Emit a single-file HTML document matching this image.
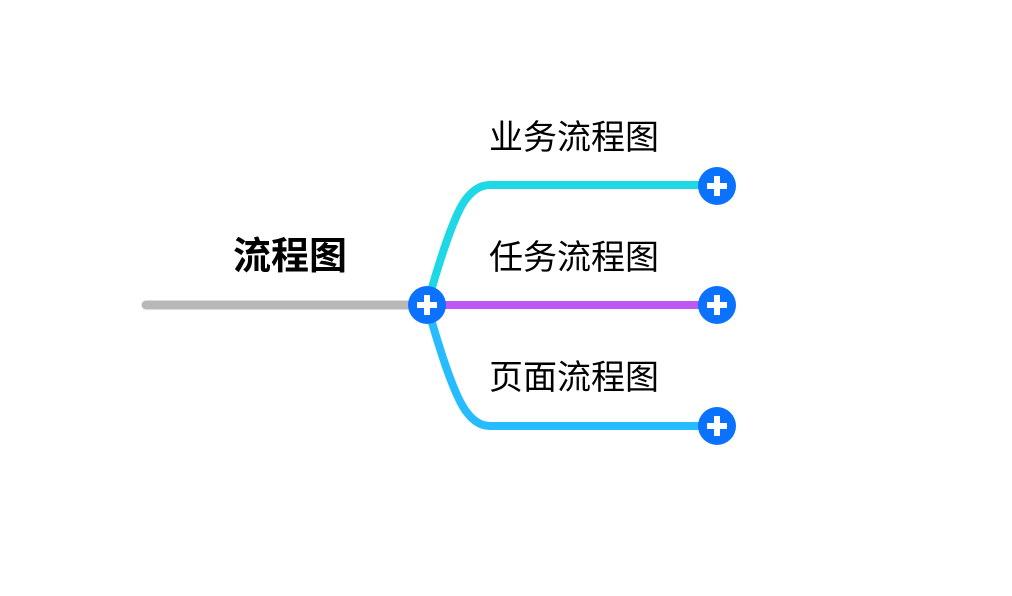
<!DOCTYPE html>
<html><head><meta charset="utf-8"><style>
html,body{margin:0;padding:0;background:#fff;width:1012px;height:596px;overflow:hidden}
</style></head><body>
<svg width="1012" height="596" viewBox="0 0 1012 596" xmlns="http://www.w3.org/2000/svg">
<line x1="146" y1="305" x2="427" y2="305" stroke="#b8b8b8" stroke-width="9" stroke-linecap="round"/>
<path d="M427 305 Q448 230 462 205 Q474 185 490 185 L716 185" fill="none" stroke="#1fd8e6" stroke-width="8"/>
<path d="M427 305 Q448 380 462 405 Q474 426 490 426 L716 426" fill="none" stroke="#26bcff" stroke-width="8"/>
<line x1="427" y1="305" x2="716" y2="305" stroke="#bd59f2" stroke-width="8"/>
<g fill="#0a72ff">
<circle cx="427" cy="305" r="19"/><circle cx="717" cy="186" r="19"/><circle cx="717" cy="305" r="19"/><circle cx="717" cy="426" r="19"/>
</g>
<g fill="#fff">
<rect x="417" y="302" width="20" height="6"/><rect x="424" y="295" width="6" height="20"/>
<rect x="707" y="183" width="20" height="6"/><rect x="714" y="176" width="6" height="20"/>
<rect x="707" y="302" width="20" height="6"/><rect x="714" y="295" width="6" height="20"/>
<rect x="707" y="423" width="20" height="6"/><rect x="714" y="416" width="6" height="20"/>
</g>
<g font-family="'Liberation Sans','Noto Sans CJK SC',sans-serif" fill="#000">
<text x="290" y="269" font-size="38" font-weight="bold" text-anchor="middle">流程图</text>
<text x="574" y="149" font-size="34" text-anchor="middle">业务流程图</text>
<text x="574" y="269" font-size="34" text-anchor="middle">任务流程图</text>
<text x="574" y="389" font-size="34" text-anchor="middle">页面流程图</text>
</g>
</svg>
</body></html>
